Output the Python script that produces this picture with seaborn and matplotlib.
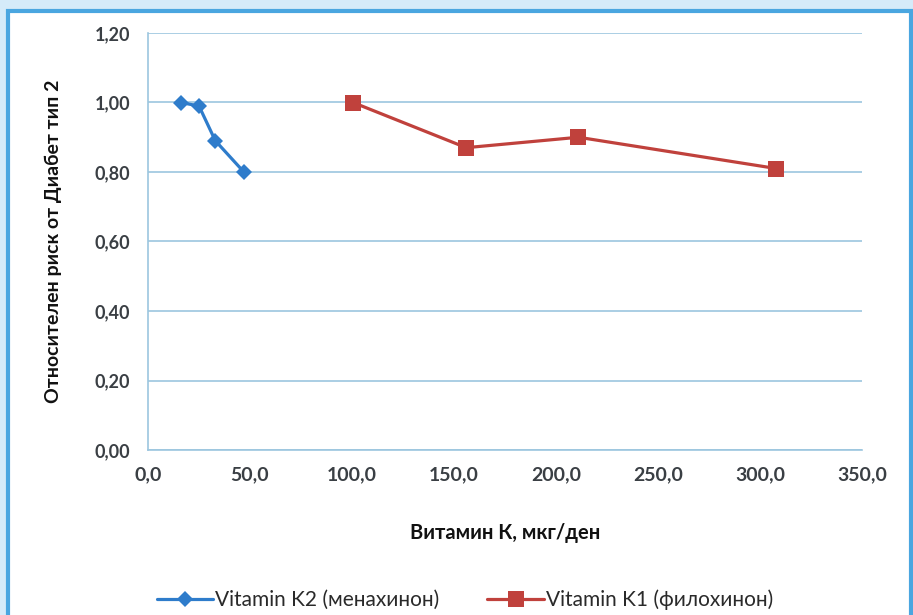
import matplotlib
matplotlib.use("Agg")
import matplotlib.pyplot as plt
import seaborn as sns
import pandas as pd
import numpy as np
from matplotlib.patches import Rectangle
from matplotlib.ticker import MultipleLocator, FuncFormatter

# Data
k2_label = 'Vitamin K2 (менахинон)'
k2_x = [16.0, 25.0, 33.0, 47.0]
k2_y = [1.00, 0.99, 0.89, 0.80]

k1_label = 'Vitamin K1 (филохинон)'
k1_x = [100.5, 156.0, 211.0, 308.0]
k1_y = [1.00, 0.87, 0.90, 0.81]

x_title = 'Витамин К, мкг/ден'
y_title = 'Относителен риск от Диабет тип 2'

df = pd.concat([
    pd.DataFrame({'x': k2_x, 'y': k2_y, 'series': k2_label}),
    pd.DataFrame({'x': k1_x, 'y': k1_y, 'series': k1_label}),
])

sns.set_style('white')
plt.rcParams['font.family'] = ['Lato', 'DejaVu Sans']

blue = '#2e7ccb'
red = '#c0413c'
grid_c = '#9cc6df'
text_c = '#3a3f44'

fig = plt.figure(figsize=(9.13, 6.15), dpi=100)
fig.patch.set_facecolor('#d5ebf9')

# white panel with blue border
fig.patches.append(Rectangle((8 / 913, -0.05), (903 / 913), 1 - 11 / 615 + 0.05,
                             transform=fig.transFigure, facecolor='white',
                             edgecolor='#4aa6e0', linewidth=3, zorder=-5))

ax = fig.add_axes([148 / 913, 1 - 450 / 615, (862 - 148) / 913, (450 - 33) / 615])
ax.set_zorder(2)
ax.set_facecolor('white')

sns.lineplot(data=df, x='x', y='y', hue='series', style='series',
             palette={k2_label: blue, k1_label: red},
             markers={k2_label: 'D', k1_label: 's'},
             dashes=False, linewidth=2.3, markersize=8, markeredgewidth=0,
             sort=False, ax=ax, legend=True)
# bigger square markers for K1
for line in ax.get_lines():
    if matplotlib.colors.to_hex(line.get_color()) == red:
        line.set_markersize(11)

ax.set_xlim(0, 350)
ax.set_ylim(0, 1.2)
ax.xaxis.set_major_locator(MultipleLocator(50))
ax.xaxis.set_minor_locator(MultipleLocator(10))
ax.yaxis.set_major_locator(MultipleLocator(0.2))
ax.xaxis.set_major_formatter(FuncFormatter(lambda v, p: f'{v:.1f}'.replace('.', ',')))
ax.yaxis.set_major_formatter(FuncFormatter(lambda v, p: f'{v:.2f}'.replace('.', ',')))

ax.grid(True, axis='y', color=grid_c, linewidth=1.2)
ax.set_axisbelow(True)
for s in ['top', 'right']:
    ax.spines[s].set_visible(False)
ax.spines['left'].set_color(grid_c)
ax.spines['bottom'].set_color(grid_c)
ax.spines['left'].set_linewidth(1.2)
ax.spines['bottom'].set_linewidth(1.2)

ax.tick_params(axis='y', which='major', direction='out', length=8, color=grid_c,
               labelsize=13, labelcolor=text_c, pad=5)
ax.tick_params(axis='x', which='major', direction='out', length=5, color=grid_c,
               labelcolor=text_c, labelsize=14, pad=7)
ax.tick_params(axis='x', which='minor', direction='out', length=5, color=grid_c)
for t in ax.get_yticklabels() + ax.get_xticklabels():
    t.set_fontweight('bold')

ax.set_xlabel(x_title, fontsize=14.5, fontweight='bold', color='#111111')
ax.xaxis.set_label_coords(0.5, -0.175)
ax.set_ylabel(y_title, fontsize=14, fontweight='bold', color='#111111')
ax.yaxis.set_label_coords(-0.132, 0.5)
ax.yaxis.label.set_va('center')

handles, labels = ax.get_legend_handles_labels()
ax.get_legend().remove()
fig.legend(handles, labels, loc='center', bbox_to_anchor=(465 / 913, 1 - 600 / 615),
           ncol=2, frameon=False, fontsize=15, handlelength=2.7,
           columnspacing=2.3, handletextpad=0.1, labelcolor='#2a2a2a')

fig.savefig('out.png', dpi=100, facecolor=fig.get_facecolor())
